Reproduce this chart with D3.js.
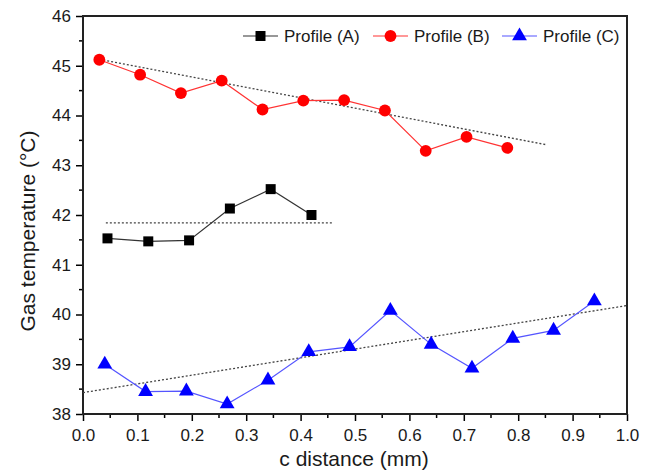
<!DOCTYPE html>
<html>
<head>
<meta charset="utf-8">
<script src="https://cdn.jsdelivr.net/npm/d3@7"></script>
<style>
  body { margin: 0; background: #fff; }
  text { font-family: "Liberation Sans", Arial, sans-serif; }
</style>
</head>
<body>
<div id="chart"></div>
<script>
// Data
var xA = [0.045, 0.12, 0.195, 0.27, 0.345, 0.42];
var yA = [41.53, 41.47, 41.49, 42.13, 42.52, 42.0];
var xB = [0.03, 0.105, 0.18, 0.255, 0.33, 0.405, 0.48, 0.555, 0.63, 0.705, 0.78];
var yB = [45.12, 44.82, 44.45, 44.7, 44.12, 44.3, 44.31, 44.1, 43.29, 43.57, 43.35];
var xC = [0.04, 0.115, 0.19, 0.265, 0.34, 0.415, 0.49, 0.565, 0.64, 0.715, 0.79, 0.865, 0.94];
var yC = [39.0, 38.45, 38.46, 38.2, 38.68, 39.25, 39.35, 40.08, 39.4, 38.92, 39.52, 39.68, 40.27];

// dotted trend lines (end points)
var fitAx = [0.042, 0.46], fitAy = [41.84, 41.84];
var fitBx = [0.03, 0.853], fitBy = [45.13, 43.41];
var fitCx = [0.0, 1.0], fitCy = [38.43, 40.18];

var xTicks = [0, 0.1, 0.2, 0.3, 0.4, 0.5, 0.6, 0.7, 0.8, 0.9, 1.0];
var yTicks = [38, 39, 40, 41, 42, 43, 44, 45, 46];
var seriesNames = ["Profile (A)", "Profile (B)", "Profile (C)"];

var margin = { top: 16, right: 28, bottom: 62, left: 83 },
    width = 655 - margin.left - margin.right,
    height = 476 - margin.top - margin.bottom;

var svg = d3.select("#chart").append("svg")
    .attr("width", 655).attr("height", 476)
    .append("g")
    .attr("transform", "translate(" + margin.left + "," + margin.top + ")");

var x = d3.scaleLinear().domain([0, 1]).range([0, width]);
var y = d3.scaleLinear().domain([38, 46]).range([height, 0]);

// minor ticks
var xMinor = d3.range(0.05, 1, 0.1);
var yMinor = d3.range(38.5, 46, 1);

svg.append("g").selectAll("line").data(xMinor).enter().append("line")
    .attr("x1", function(d) { return x(d); }).attr("x2", function(d) { return x(d); })
    .attr("y1", height).attr("y2", height + 4)
    .attr("stroke", "#000").attr("stroke-width", 1.5);
svg.append("g").selectAll("line").data(yMinor).enter().append("line")
    .attr("y1", function(d) { return y(d); }).attr("y2", function(d) { return y(d); })
    .attr("x1", 0).attr("x2", -4)
    .attr("stroke", "#000").attr("stroke-width", 1.5);

// axes
var xAxis = svg.append("g")
    .attr("transform", "translate(0," + height + ")")
    .call(d3.axisBottom(x).tickValues(xTicks).tickFormat(d3.format(".1f")).tickSize(7).tickPadding(8));
var yAxis = svg.append("g")
    .call(d3.axisLeft(y).tickValues(yTicks).tickFormat(d3.format("d")).tickSize(7).tickPadding(5));

[xAxis, yAxis].forEach(function(a) {
    a.select(".domain").remove();
    a.selectAll("line").attr("stroke-width", 1.5);
    a.selectAll("text").style("font-size", "17px").attr("fill", "#1a1a1a");
});

// frame
svg.append("rect")
    .attr("width", width).attr("height", height)
    .attr("fill", "none").attr("stroke", "#222").attr("stroke-width", 2);

// trend lines
function fitLine(xs, ys) {
    svg.append("line")
        .attr("x1", x(xs[0])).attr("x2", x(xs[1]))
        .attr("y1", y(ys[0])).attr("y2", y(ys[1]))
        .attr("stroke", "#444").attr("stroke-width", 1.3)
        .attr("stroke-dasharray", "2,2");
}
fitLine(fitAx, fitAy);
fitLine(fitBx, fitBy);
fitLine(fitCx, fitCy);

var line = d3.line().x(function(d) { return x(d[0]); }).y(function(d) { return y(d[1]); });

function drawSeries(xs, ys, lineColor, color, shape) {
    var pts = xs.map(function(v, i) { return [v, ys[i]]; });
    svg.append("path").datum(pts)
        .attr("d", line).attr("fill", "none")
        .attr("stroke", lineColor).attr("stroke-width", 1.2);
    svg.append("g").selectAll("path").data(pts).enter().append("path")
        .attr("transform", function(d) { return "translate(" + x(d[0]) + "," + y(d[1]) + ")"; })
        .attr("d", shape)
        .attr("fill", color);
}

var sq = d3.symbol().type(d3.symbolSquare).size(100)();
var ci = d3.symbol().type(d3.symbolCircle).size(110)();
var tri = d3.symbol().type(d3.symbolTriangle).size(95)();

drawSeries(xA, yA, "#333", "#000", sq);
drawSeries(xB, yB, "#ff3333", "#ff0000", ci);
drawSeries(xC, yC, "#5555ff", "#0000ff", tri);

// legend
var legendX = [160, 290, 419];
var legendColors = [["#333", "#000", sq], ["#ff3333", "#ff0000", ci], ["#5555ff", "#0000ff", tri]];
var legend = svg.append("g").attr("transform", "translate(0,20)");
seriesNames.forEach(function(name, i) {
    var g = legend.append("g").attr("transform", "translate(" + legendX[i] + ",0)");
    g.append("line").attr("x1", 0).attr("x2", 35).attr("y1", 0).attr("y2", 0)
        .attr("stroke", legendColors[i][0]).attr("stroke-width", 1.2);
    g.append("path").attr("transform", "translate(17.5,0)")
        .attr("d", legendColors[i][2]).attr("fill", legendColors[i][1]);
    g.append("text").attr("x", 41).attr("y", 6)
        .style("font-size", "17px").attr("fill", "#1a1a1a").text(name);
});

// axis titles
svg.append("text")
    .attr("x", x(0.5) - 1).attr("y", height + 52)
    .attr("text-anchor", "middle")
    .style("font-size", "21px").attr("fill", "#1a1a1a")
    .text("c distance (mm)");
svg.append("text")
    .attr("transform", "translate(-48," + (y(42) + 16) + ") rotate(-90)")
    .attr("text-anchor", "middle")
    .style("font-size", "21px").attr("fill", "#1a1a1a")
    .text("Gas temperature (\u00B0C)");
</script>
</body>
</html>
